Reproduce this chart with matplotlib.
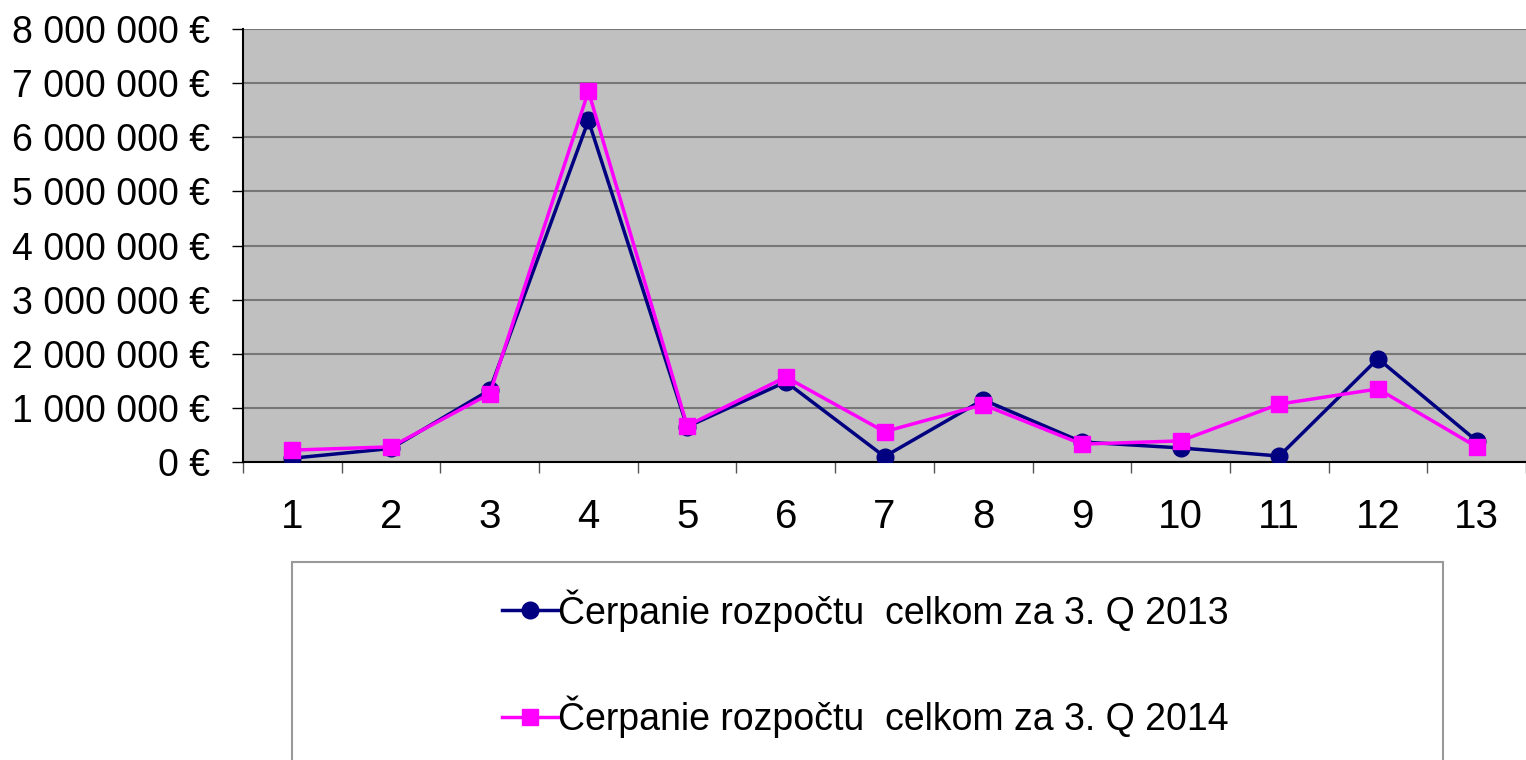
import matplotlib.pyplot as plt
from matplotlib.patches import Rectangle
from matplotlib.ticker import FuncFormatter

plt.rcParams['font.family'] = ['Liberation Sans', 'DejaVu Sans']

# poradie položiek
kategorie = list(range(1, 14))
# čerpanie rozpočtu v eurách
cerpanie_2013 = [70000, 250000, 1330000, 6310000, 650000, 1480000, 100000,
                 1150000, 370000, 260000, 110000, 1910000, 390000]
cerpanie_2014 = [220000, 280000, 1260000, 6850000, 670000, 1570000, 560000,
                 1060000, 330000, 390000, 1070000, 1350000, 280000]
popisky = ['Čerpanie rozpočtu  celkom za 3. Q 2013',
           'Čerpanie rozpočtu  celkom za 3. Q 2014']

fig = plt.figure(figsize=(15.26, 7.6), dpi=100)
ax = fig.add_axes([243 / 1526, 298 / 760, 1283 / 1526, 433 / 760])
ax.set_facecolor('#c0c0c0')

ax.plot(kategorie, cerpanie_2013, color='#000080', lw=2.5, marker='o',
        ms=12, label=popisky[0], zorder=3)
ax.plot(kategorie, cerpanie_2014, color='#ff00ff', lw=2.5, marker='s',
        ms=12, label=popisky[1], zorder=4)

ax.set_xlim(0.5, 13.5)
ax.set_ylim(0, 8000000)
ax.set_yticks(range(0, 8000001, 1000000))
ax.yaxis.set_major_formatter(FuncFormatter(
    lambda v, p: f'{int(v):,} €'.replace(',', ' ')))
ax.set_xticks(kategorie)
ax.set_xticks([k + 0.5 for k in range(0, 14)], minor=True)
ax.tick_params(axis='x', which='major', length=0, pad=26, labelsize=29)
ax.tick_params(axis='x', which='minor', length=8, width=1, color='#555555')
ax.tick_params(axis='y', length=8, width=1, pad=16, labelsize=27)
ax.grid(axis='y', color='#777777', lw=1.5)
ax.set_axisbelow(True)

for s in ['top', 'right']:
    ax.spines[s].set_visible(False)
ax.spines['left'].set_linewidth(1.5)
ax.spines['bottom'].set_linewidth(1.5)

# rámček legendy
fig.patches.append(Rectangle((292 / 1526, -0.01), 1151 / 1526, 198 / 760 + 0.01,
                             transform=fig.transFigure, fill=False,
                             edgecolor='#999999', lw=1.5))
fig.legend(loc='center', bbox_to_anchor=(0.567, 0.127), frameon=False,
           fontsize=27, handlelength=1.5, handletextpad=0.0,
           labelspacing=1.7)

fig.savefig('out.png', dpi=100)
